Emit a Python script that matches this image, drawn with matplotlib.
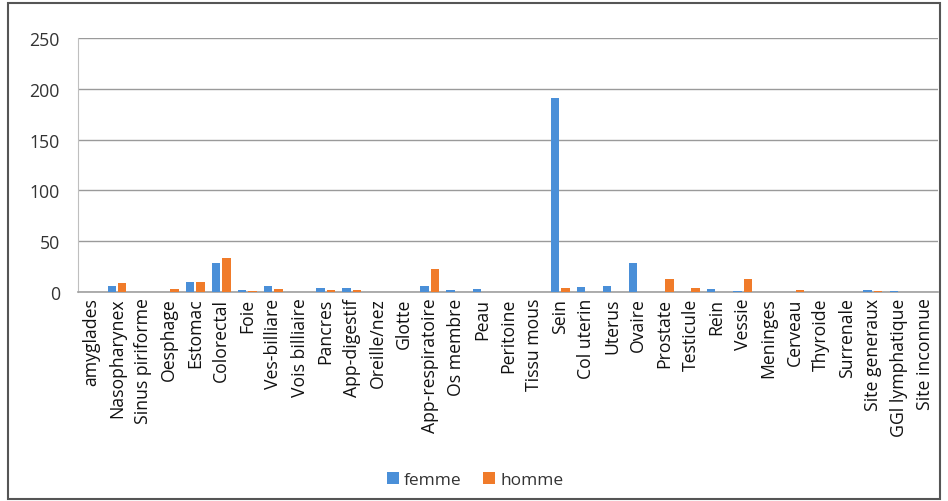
import matplotlib
matplotlib.use("Agg")
import matplotlib.pyplot as plt
import numpy as np
from matplotlib.patches import Rectangle

categories = ["amyglades", "Nasopharynex", "Sinus piriforme", "Oesphage", "Estomac",
              "Colorectal", "Foie", "Ves-billiare", "Vois billiaire", "Pancres",
              "App-digestif", "Oreille/nez", "Glotte", "App-respiratoire", "Os membre",
              "Peau", "Peritoine", "Tissu mous", "Sein", "Col uterin", "Uterus", "Ovaire",
              "Prostate", "Testicule", "Rein", "Vessie", "Meninges", "Cerveau", "Thyroide",
              "Surrenale", "Site generaux", "GGl lymphatique", "Site inconnue"]
femme = [0, 6, 0, 0, 10, 29, 2, 6, 0, 4, 4, 0, 0, 6, 2, 3, 0, 0, 191, 5, 6, 29,
         0, 0, 3, 1, 0, 0, 0, 0, 2, 1, 0]
homme = [0, 9, 0, 3, 10, 33, 1, 3, 0, 2, 2, 0, 0, 23, 0, 0, 0, 0, 4, 0, 0, 0,
         13, 4, 0, 13, 0, 2, 0, 0, 1, 0, 0]
yticks = [0, 50, 100, 150, 200, 250]

plt.rcParams['font.family'] = ['Open Sans', 'DejaVu Sans']

fig = plt.figure(figsize=(9.48, 5.02), dpi=100)
ax = fig.add_axes([78/948, 1-293/502, (938-78)/948, (293-39)/502])

x = np.arange(len(categories))
w = 0.32
ax.bar(x - 0.2, femme, w, color='#4A8FD8', label='femme', zorder=3)
ax.bar(x + 0.2, homme, w, color='#F07B2A', label='homme', zorder=3)

ax.set_xlim(-0.5, len(categories) - 0.5)
ax.set_ylim(0, 250)
ax.set_yticks(yticks)
ax.set_xticks(x)
ax.set_xticklabels(categories, rotation=90, fontsize=12.7)
ax.tick_params(axis='y', labelsize=12.7, length=0, pad=13, colors='#333333')
ax.tick_params(axis='x', length=0, pad=4, colors='#111111')
ax.grid(axis='y', color='#9a9a9a', linewidth=1.0, zorder=0)
for s in ['top', 'right']:
    ax.spines[s].set_visible(False)
ax.spines['left'].set_color('#bfbfbf')
ax.spines['bottom'].set_color('#a0a0a0')
ax.spines['bottom'].set_linewidth(1.2)

leg = fig.legend(loc='center', bbox_to_anchor=(475/948, 1-481/502), ncol=2, frameon=False,
                 fontsize=12.5, handlelength=0.7, handleheight=0.7, handletextpad=0.3,
                 columnspacing=1.2)
for t in leg.get_texts():
    t.set_color('#333333')

fig.patches.append(Rectangle((8/948, 2/502), 932/948, 496/502, transform=fig.transFigure,
                             fill=False, edgecolor='#555555', linewidth=1.5))

fig.savefig('out.png', dpi=100)
